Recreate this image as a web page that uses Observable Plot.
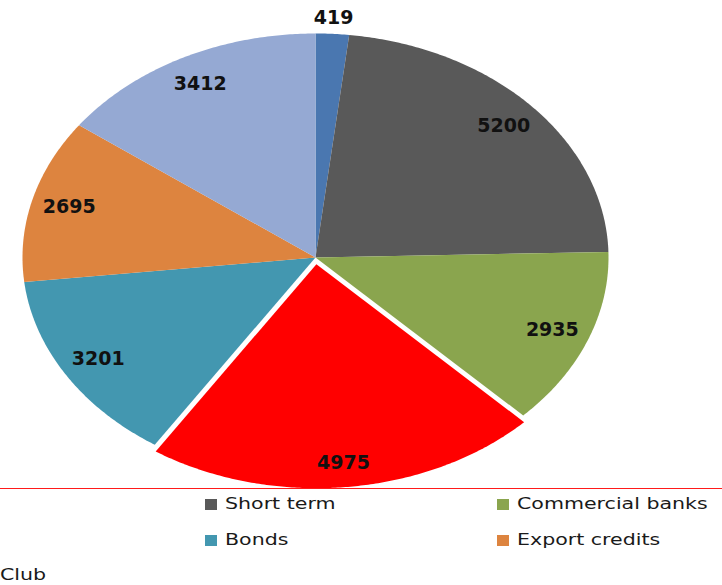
<!DOCTYPE html>
<html><head><meta charset="utf-8">
<script src="https://cdn.jsdelivr.net/npm/d3@7"></script>
<script src="https://cdn.jsdelivr.net/npm/@observablehq/plot@0.6"></script>
<style>
html,body{margin:0;padding:0;background:#fff;width:722px;height:585px;overflow:hidden;position:relative}
#chart svg{display:block}
.rule{position:absolute;left:0;top:488px;width:722px;height:1px;background:#ff1a1a}
.sw{position:absolute;width:12px;height:11px}
.lab{position:absolute;font:15px "DejaVu Sans";color:#1a1a1a;white-space:nowrap;line-height:15px;transform:scaleX(1.37);transform-origin:0 0}
</style></head><body>
<div id="chart"></div>
<div class="rule"></div>
<div id="legend"></div>
<script>
const categories = ["IMF","Short term","Commercial banks","Multilateral","Bonds","Export credits","Paris Club"];
const values = [419,5200,2935,4975,3201,2695,3412];
const colors = ["#4a77b0","#595959","#8aa54e","#ff0000","#4397b0","#dd843f","#95a9d3"];
const explodedCategory = "Multilateral";
// legend entries visible in the picture (left column is cropped away)
const legendVisible = ["Short term","Commercial banks","Bonds","Export credits"];
const croppedLegendText = "Club";

const total = d3.sum(values);
const pts = [];
const labels = [];
let cum = 0;
categories.forEach((name, i) => {
  const a0 = cum / total * 2 * Math.PI;
  cum += values[i];
  const a1 = cum / total * 2 * Math.PI;
  const mid = (a0 + a1) / 2;
  const ex = name === explodedCategory ? 0.03 : 0;
  const ox = ex * Math.sin(mid), oy = ex * Math.cos(mid);
  const color = colors[i];
  pts.push({name, color, x: ox, y: oy});
  const n = Math.max(2, Math.ceil((a1 - a0) / (Math.PI / 360)));
  for (let k = 0; k <= n; k++) {
    const a = a0 + (a1 - a0) * k / n;
    pts.push({name, color, x: ox + Math.sin(a), y: oy + Math.cos(a)});
  }
  pts.push({name, color, x: ox, y: oy});
  const share = values[i] / total;
  const r = share < 0.05 ? 1.07 : (ex ? 0.89 : 0.87);
  labels.push({text: String(values[i]), x: ox + r * Math.sin(mid), y: oy + r * Math.cos(mid)});
});

const chart = Plot.plot({
  width: 722, height: 489,
  marginLeft: 22, marginRight: 114, marginTop: 33, marginBottom: 8,
  x: {domain: [-1, 1], axis: null},
  y: {domain: [-1, 1], axis: null},
  marks: [
    Plot.line(pts, {x: "x", y: "y", z: "name", fill: "color", stroke: "none"}),
    Plot.text(labels, {x: "x", y: "y", text: "text", fontFamily: "DejaVu Sans", fontWeight: "bold", fontSize: 19, fill: "#111"})
  ]
});
document.getElementById("chart").appendChild(chart);

// legend (3 columns, row-major)
const legend = document.getElementById("legend");
const colX = [null, 205, 497];
const rowY = [499, 535, 570];
categories.forEach((name, i) => {
  const c = i % 3, r = Math.floor(i / 3);
  if (!legendVisible.includes(name)) return;
  const sw = document.createElement("div");
  sw.className = "sw";
  sw.style.left = colX[c] + "px";
  sw.style.top = rowY[r] + "px";
  sw.style.background = colors[i];
  legend.appendChild(sw);
  const t = document.createElement("div");
  t.className = "lab";
  t.style.left = (colX[c] + 20) + "px";
  t.style.top = (rowY[r] + 11 - 12.7) + "px";
  t.textContent = name;
  legend.appendChild(t);
});
const club = document.createElement("div");
club.className = "lab";
club.style.left = "0px";
club.style.top = (rowY[2] + 11 - 12.7) + "px";
club.textContent = croppedLegendText;
legend.appendChild(club);
</script>
</body></html>
